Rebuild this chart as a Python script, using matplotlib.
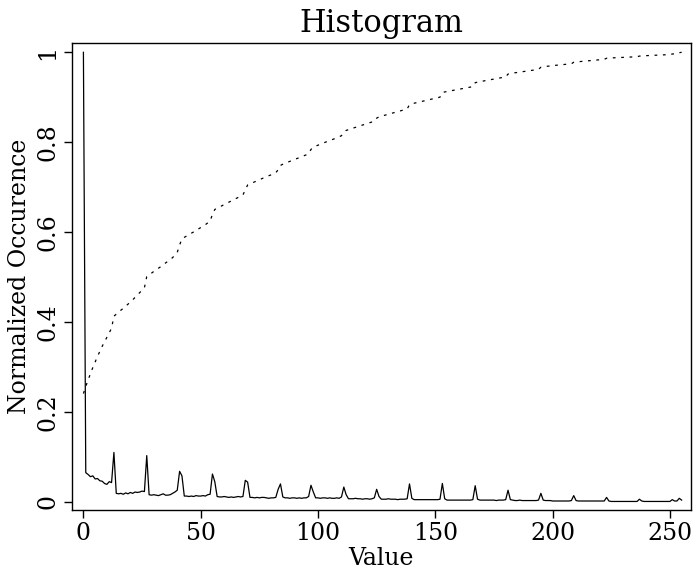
import numpy as np
import matplotlib
matplotlib.use('Agg')
import matplotlib.pyplot as plt

# Normalized histogram of values 0..255 (14 values per row)
hist = [
    # 0-13
    1.000, 0.065, 0.061, 0.056, 0.058, 0.051, 0.052, 0.047, 0.046, 0.041, 0.039, 0.045, 0.043, 0.110,
    # 14-27
    0.019, 0.018, 0.019, 0.017, 0.020, 0.018, 0.021, 0.019, 0.022, 0.021, 0.022, 0.024, 0.023, 0.103,
    # 28-41
    0.016, 0.015, 0.016, 0.015, 0.014, 0.016, 0.018, 0.015, 0.015, 0.016, 0.019, 0.022, 0.026, 0.068,
    # 42-55
    0.058, 0.013, 0.013, 0.012, 0.013, 0.012, 0.014, 0.013, 0.013, 0.014, 0.013, 0.016, 0.017, 0.062,
    # 56-69
    0.045, 0.012, 0.011, 0.011, 0.012, 0.011, 0.010, 0.011, 0.010, 0.011, 0.012, 0.011, 0.012, 0.048,
    # 70-83
    0.044, 0.010, 0.010, 0.009, 0.010, 0.009, 0.010, 0.010, 0.009, 0.008, 0.009, 0.009, 0.010, 0.028,
    # 84-97
    0.040, 0.011, 0.009, 0.009, 0.008, 0.009, 0.009, 0.008, 0.009, 0.008, 0.009, 0.009, 0.012, 0.037,
    # 98-111
    0.022, 0.009, 0.009, 0.008, 0.009, 0.009, 0.008, 0.009, 0.008, 0.008, 0.009, 0.008, 0.011, 0.033,
    # 112-125
    0.016, 0.007, 0.007, 0.007, 0.008, 0.007, 0.007, 0.006, 0.007, 0.007, 0.006, 0.007, 0.009, 0.028,
    # 126-139
    0.012, 0.006, 0.006, 0.006, 0.007, 0.006, 0.006, 0.006, 0.005, 0.006, 0.006, 0.006, 0.007, 0.040,
    # 140-153
    0.008, 0.005, 0.005, 0.005, 0.005, 0.005, 0.005, 0.005, 0.005, 0.005, 0.005, 0.005, 0.006, 0.041,
    # 154-167
    0.007, 0.004, 0.004, 0.004, 0.004, 0.004, 0.004, 0.004, 0.004, 0.004, 0.004, 0.004, 0.005, 0.036,
    # 168-181
    0.006, 0.004, 0.004, 0.004, 0.004, 0.004, 0.004, 0.004, 0.003, 0.004, 0.004, 0.004, 0.005, 0.026,
    # 182-195
    0.005, 0.004, 0.003, 0.003, 0.004, 0.003, 0.003, 0.003, 0.003, 0.003, 0.003, 0.003, 0.004, 0.019,
    # 196-209
    0.004, 0.003, 0.003, 0.003, 0.002, 0.002, 0.002, 0.002, 0.002, 0.002, 0.002, 0.002, 0.003, 0.014,
    # 210-223
    0.003, 0.002, 0.002, 0.002, 0.002, 0.002, 0.002, 0.002, 0.002, 0.002, 0.002, 0.002, 0.002, 0.010,
    # 224-237
    0.002, 0.001, 0.001, 0.001, 0.001, 0.001, 0.001, 0.001, 0.001, 0.001, 0.001, 0.001, 0.001, 0.006,
    # 238-251
    0.002, 0.001, 0.001, 0.001, 0.001, 0.001, 0.001, 0.001, 0.001, 0.001, 0.001, 0.001, 0.001, 0.005,
    # 252-255
    0.002, 0.002, 0.008, 0.004,
]
values = np.arange(len(hist))

# Cumulative distribution, normalized to 1
cumulative = np.cumsum(hist) / np.sum(hist)

xticks = [0, 50, 100, 150, 200, 250]
yticks = [0, 0.2, 0.4, 0.6, 0.8, 1]
ytick_labels = ['0', '0.2', '0.4', '0.6', '0.8', '1']

plt.rcParams['font.family'] = ['DejaVu Serif']

fig = plt.figure(figsize=(6.98, 5.69), dpi=100)
ax = fig.add_axes([0.1027, 0.1037, 0.8873, 0.8202])

ax.plot(values, hist, color='black', linewidth=0.9)
ax.plot(values, cumulative, color='black', linewidth=0.9, linestyle=(0, (2.2, 4.5)))

ax.set_xlim(-5, 259)
ax.set_ylim(-0.018, 1.02)
ax.set_xticks(xticks)
ax.set_yticks(yticks)
ax.set_yticklabels(ytick_labels, rotation=90, va='center')
ax.tick_params(direction='out', length=6, width=1, labelsize=17)
ax.tick_params(axis='y', pad=3)
ax.tick_params(axis='x', pad=3)

for s in ax.spines.values():
    s.set_linewidth(1)

ax.set_title('Histogram', fontsize=22, pad=8)
ax.set_xlabel('Value', fontsize=17, labelpad=1)
ax.set_ylabel('Normalized Occurence', fontsize=17, labelpad=4)

fig.savefig('out.png', dpi=100)
